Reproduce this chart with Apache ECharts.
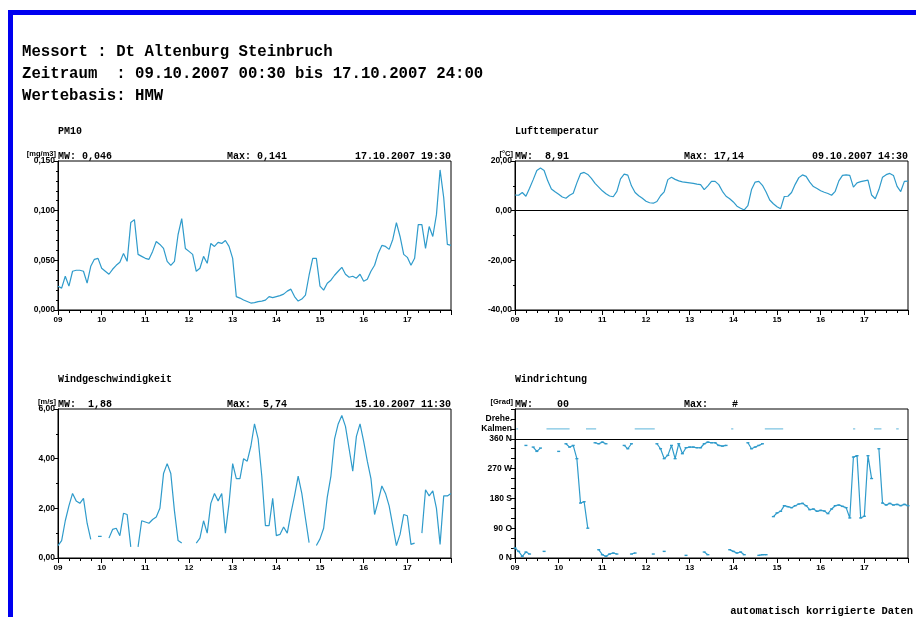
<!DOCTYPE html>
<html>
<head>
<meta charset="utf-8">
<script src="https://cdn.jsdelivr.net/npm/echarts@6/dist/echarts.min.js"></script>
<style>
  html, body { margin: 0; padding: 0; background: #fff; }
  #chart { width: 916px; height: 617px; }
</style>
</head>
<body>
<div id="chart"></div>
<script>
// Half-hourly station record, sampled every 2 hours from 09.10.2007 00:00 to 18.10.2007 00:00
const STEP_H = 2;
const dayLabels = ['09', '10', '11', '12', '13', '14', '15', '16', '17'];

// PM10 [mg/m3]
const pm10 = [
  0.024,0.022,0.034,0.024,0.039,0.040,0.040,0.039,0.027,0.044,
  0.051,0.052,0.042,0.039,0.036,0.041,0.045,0.048,0.057,0.049,
  0.088,0.091,0.056,0.054,0.052,0.051,0.059,0.069,0.066,0.062,
  0.049,0.045,0.049,0.076,0.092,0.062,0.059,0.056,0.039,0.042,
  0.054,0.047,0.067,0.064,0.068,0.067,0.070,0.064,0.052,0.0135,
  0.012,0.010,0.0085,0.007,0.0075,0.0085,0.009,0.010,0.0135,0.0125,
  0.0135,0.0145,0.016,0.019,0.021,0.0135,0.009,0.011,0.015,0.035,
  0.052,0.052,0.024,0.020,0.027,0.030,0.035,0.039,0.043,0.036,
  0.033,0.034,0.032,0.036,0.029,0.031,0.039,0.045,0.057,0.065,
  0.064,0.061,0.071,0.088,0.074,0.056,0.053,0.045,0.052,0.086,
  0.086,0.062,0.084,0.074,0.096,0.141,0.113,0.066,0.065
];

// Lufttemperatur [°C]
const temperature = [
  6.3,6.2,7.3,5.8,9.0,12.5,16.2,17.14,16.2,12.0,
  8.7,7.6,6.6,5.5,5.0,6.2,7.0,11.2,14.9,15.4,
  14.6,13.0,11.0,9.5,8.0,6.8,5.9,5.6,7.8,12.8,
  14.7,14.3,10.0,7.3,6.0,5.0,3.8,3.2,3.0,3.7,
  6.0,7.6,12.5,13.5,12.6,12.0,11.6,11.4,11.2,11.0,
  10.7,10.5,8.5,10.0,11.8,11.8,10.5,7.8,5.8,4.8,
  3.5,1.8,1.0,0.3,2.0,8.5,11.5,11.8,10.2,7.5,
  4.3,2.8,1.6,0.8,5.7,5.8,7.3,10.6,13.3,14.4,
  13.8,11.5,9.7,8.9,8.0,7.4,6.9,6.2,7.8,12.0,
  14.2,14.4,14.2,9.5,11.2,11.7,12.0,12.3,6.3,4.8,
  8.5,13.5,14.5,15.0,14.2,9.8,7.7,11.8,11.9
];

// Windgeschwindigkeit [m/s], null = no valid value
const windSpeed = [
  0.5,0.7,1.5,2.1,2.6,2.3,2.2,2.4,1.4,0.75,
  null,0.87,0.87,null,0.8,1.15,1.2,0.9,1.8,1.75,
  0.45,null,0.45,1.5,1.45,1.4,1.55,1.65,2.0,3.4,
  3.8,3.4,1.9,0.7,0.6,null,null,null,0.6,0.8,
  1.5,1.0,2.2,2.6,2.3,2.6,1.0,2.2,3.8,3.2,
  3.2,4.0,3.9,4.5,5.4,4.8,3.3,1.3,1.3,2.4,
  0.9,0.95,1.25,1.0,1.8,2.5,3.3,2.6,1.6,0.62,
  null,0.5,0.77,1.2,2.45,3.3,4.8,5.4,5.74,5.3,
  4.4,3.5,4.9,5.4,4.7,3.9,3.2,1.75,2.3,2.9,
  2.6,2.1,1.3,0.5,0.95,1.75,1.7,0.55,0.6,null,
  1.0,2.75,2.5,2.7,2.0,0.55,2.5,2.5,2.6
];

// Windrichtung [Grad]: main trace and readings just east of north (near 0°)
const windDir = [
  null,null,null,340,null,335,322,332,null,null,
  null,null,322,null,345,335,340,300,166,170,
  90,null,348,345,350,345,null,null,null,null,
  340,330,345,null,null,null,null,null,null,345,
  330,300,310,340,300,345,315,333,335,335,
  333,333,345,350,348,348,340,338,340,null,
  null,null,null,null,348,330,335,340,345,null,
  null,125,136,141,158,155,152,158,163,165,
  158,146,148,141,144,142,134,148,158,160,
  156,152,121,305,309,121,126,309,240,null,
  330,166,160,165,160,162,158,162,158
];
const windDirNorth = [
  30,20,5,18,12,null,null,null,20,null,
  null,null,null,null,null,null,null,null,null,null,
  null,null,null,25,10,5,12,15,12,null,
  null,null,12,15,null,null,null,null,12,null,
  null,20,null,null,null,null,null,8,null,null,
  null,null,18,10,null,null,null,null,null,25,
  20,15,18,10,null,null,null,8,10,10,
  null,null,null,null,null,null,null,null,null,null,
  null,null,null,null,null,null,null,null,null,null,
  null,null,null,null,null,null,null,null,null,null,
  null,null,null,null,null,null,null,null,null
];
// Calm periods (start, end) in hours after 09.10.2007 00:00
const calmPeriods = [
  [0.7, 1.7], [17.3, 30], [39, 44.6], [65.8, 76.8], [118.8, 120],
  [137.3, 147.4], [185.8, 187], [197.3, 201.4], [209.5, 210.9]
];
const CALM_LEVEL = 390;
const dirTickValues = [0, 90, 180, 270, 360, 390, 420];
const dirTickLabels = ['0 N', '90 O', '180 S', '270 W', '360 N', 'Kalmen', 'Drehe.'];

const LINE = '#2f9bcb';
const MONO = '"Liberation Mono", "DejaVu Sans Mono", monospace';
const SANS = '"Liberation Sans", Arial, sans-serif';

function toPairs(values) {
  return values.map((v, i) => [i * STEP_H, v == null ? '-' : v]);
}
function calmPairs(periods) {
  const out = [];
  periods.forEach(([a, b]) => {
    out.push([a, CALM_LEVEL], [b, CALM_LEVEL], [(b + 0.01), '-']);
  });
  return out;
}

const panels = [
  { left: 58,  top: 161, title: 'PM10', unit: '[mg/m3]', mw: 'MW: 0,046', max: 'Max: 0,141', date: '17.10.2007 19:30' },
  { left: 515, top: 161, title: 'Lufttemperatur', unit: '[°C]', mw: 'MW:  8,91', max: 'Max: 17,14', date: '09.10.2007 14:30' },
  { left: 58,  top: 409, title: 'Windgeschwindigkeit', unit: '[m/s]', mw: 'MW:  1,88', max: 'Max:  5,74', date: '15.10.2007 11:30' },
  { left: 515, top: 409, title: 'Windrichtung', unit: '[Grad]', mw: 'MW:    00', max: 'Max:    #', date: '' }
];
const PW = 393, PH = 149;

function xAxisFor(g) {
  return {
    type: 'value', gridIndex: g, min: 0, max: 216, interval: 24,
    axisLine: { onZero: false, lineStyle: { color: '#000', width: 1 } },
    axisTick: { length: 5, lineStyle: { color: '#000' } },
    minorTick: { show: true, splitNumber: 4, length: 3, lineStyle: { color: '#000' } },
    splitLine: { show: false },
    axisLabel: {
      margin: 6, color: '#000', fontSize: 8, fontWeight: 'bold', fontFamily: SANS,
      formatter: v => (v % 24 === 0 && v < 216) ? dayLabels[v / 24] : ''
    }
  };
}
function yAxisFor(g, min, max, interval, minorSplit, fmt) {
  return {
    type: 'value', gridIndex: g, min, max, interval,
    axisLine: { show: true, onZero: false, lineStyle: { color: '#000', width: 1 } },
    axisTick: { show: true, length: 4, lineStyle: { color: '#000' } },
    minorTick: { show: minorSplit > 1, splitNumber: minorSplit, length: 2, lineStyle: { color: '#000' } },
    splitLine: { show: false },
    axisLabel: { margin: 3, color: '#000', fontSize: 8.5, fontWeight: 'bold', fontFamily: SANS, formatter: fmt }
  };
}
const comma = d => v => v.toFixed(d).replace('.', ',');

const graphics = [
  { type: 'rect', shape: { x: 8, y: 10, width: 5, height: 607 }, style: { fill: '#0000f0' } },
  { type: 'rect', shape: { x: 8, y: 10, width: 908, height: 5 }, style: { fill: '#0000f0' } },
  { type: 'text', style: { x: 22, y: 52, text: 'Messort : Dt Altenburg Steinbruch', font: 'bold 15.7px ' + MONO, fill: '#000', textVerticalAlign: 'middle' } },
  { type: 'text', style: { x: 22, y: 74, text: 'Zeitraum  : 09.10.2007 00:30 bis 17.10.2007 24:00', font: 'bold 15.7px ' + MONO, fill: '#000', textVerticalAlign: 'middle' } },
  { type: 'text', style: { x: 22, y: 96, text: 'Wertebasis: HMW', font: 'bold 15.7px ' + MONO, fill: '#000', textVerticalAlign: 'middle' } },
  { type: 'text', style: { x: 913, y: 611, text: 'automatisch korrigierte Daten', font: 'bold 10.5px ' + MONO, fill: '#000', textAlign: 'right', textVerticalAlign: 'middle' } }
];
panels.forEach(p => {
  const headY = p.top - 5;
  graphics.push(
    { type: 'text', style: { x: p.left, y: p.top - 30, text: p.title, font: 'bold 10px ' + MONO, fill: '#000', textVerticalAlign: 'middle' } },
    { type: 'text', style: { x: p.left - 2, y: p.top - 7, text: p.unit, font: 'bold 7.5px ' + SANS, fill: '#000', textAlign: 'right', textVerticalAlign: 'middle' } },
    { type: 'text', style: { x: p.left, y: headY, text: p.mw, font: 'bold 10px ' + MONO, fill: '#000', textVerticalAlign: 'middle' } },
    { type: 'text', style: { x: p.left + 169, y: headY, text: p.max, font: 'bold 10px ' + MONO, fill: '#000', textVerticalAlign: 'middle' } },
    { type: 'text', style: { x: p.left + PW, y: headY, text: p.date, font: 'bold 10px ' + MONO, fill: '#000', textAlign: 'right', textVerticalAlign: 'middle' } }
  );
});

const lineBase = {
  type: 'line', showSymbol: false, connectNulls: false, silent: true,
  lineStyle: { color: LINE, width: 1.2 }, itemStyle: { color: LINE }
};
const refLine = value => ({
  silent: true, symbol: ['none', 'none'], label: { show: false },
  lineStyle: { color: '#000', type: 'solid', width: 1.2 }, data: [{ yAxis: value }]
});
const dirSymbols = { showSymbol: true, showAllSymbol: true, symbol: 'rect', symbolSize: [3, 1.4] };

const option = {
  animation: false,
  backgroundColor: '#fff',
  grid: panels.map(p => ({
    left: p.left, top: p.top, width: PW, height: PH,
    show: true, borderColor: '#000', borderWidth: 1, backgroundColor: 'transparent',
    outerBoundsMode: 'none'
  })),
  xAxis: [0, 1, 2, 3].map(xAxisFor),
  yAxis: [
    yAxisFor(0, 0, 0.15, 0.05, 5, comma(3)),
    yAxisFor(1, -40, 20, 20, 2, comma(2)),
    yAxisFor(2, 0, 6, 2, 2, comma(2)),
    yAxisFor(3, 0, 450, 30, 1, v => {
      const k = dirTickValues.indexOf(v);
      return k >= 0 ? dirTickLabels[k] : '';
    })
  ],
  graphic: graphics,
  series: [
    Object.assign({}, lineBase, { xAxisIndex: 0, yAxisIndex: 0, data: toPairs(pm10) }),
    Object.assign({}, lineBase, { xAxisIndex: 1, yAxisIndex: 1, data: toPairs(temperature), markLine: refLine(0) }),
    Object.assign({}, lineBase, { xAxisIndex: 2, yAxisIndex: 2, data: toPairs(windSpeed) }),
    Object.assign({}, lineBase, dirSymbols, { xAxisIndex: 3, yAxisIndex: 3, data: toPairs(windDir), markLine: refLine(360) }),
    Object.assign({}, lineBase, dirSymbols, { xAxisIndex: 3, yAxisIndex: 3, data: toPairs(windDirNorth) }),
    Object.assign({}, lineBase, { xAxisIndex: 3, yAxisIndex: 3, data: calmPairs(calmPeriods), lineStyle: { color: '#7cc3e2', width: 1.2 } })
  ]
};

const chart = echarts.init(document.getElementById('chart'), null, { renderer: 'canvas' });
chart.setOption(option);
</script>
</body>
</html>
